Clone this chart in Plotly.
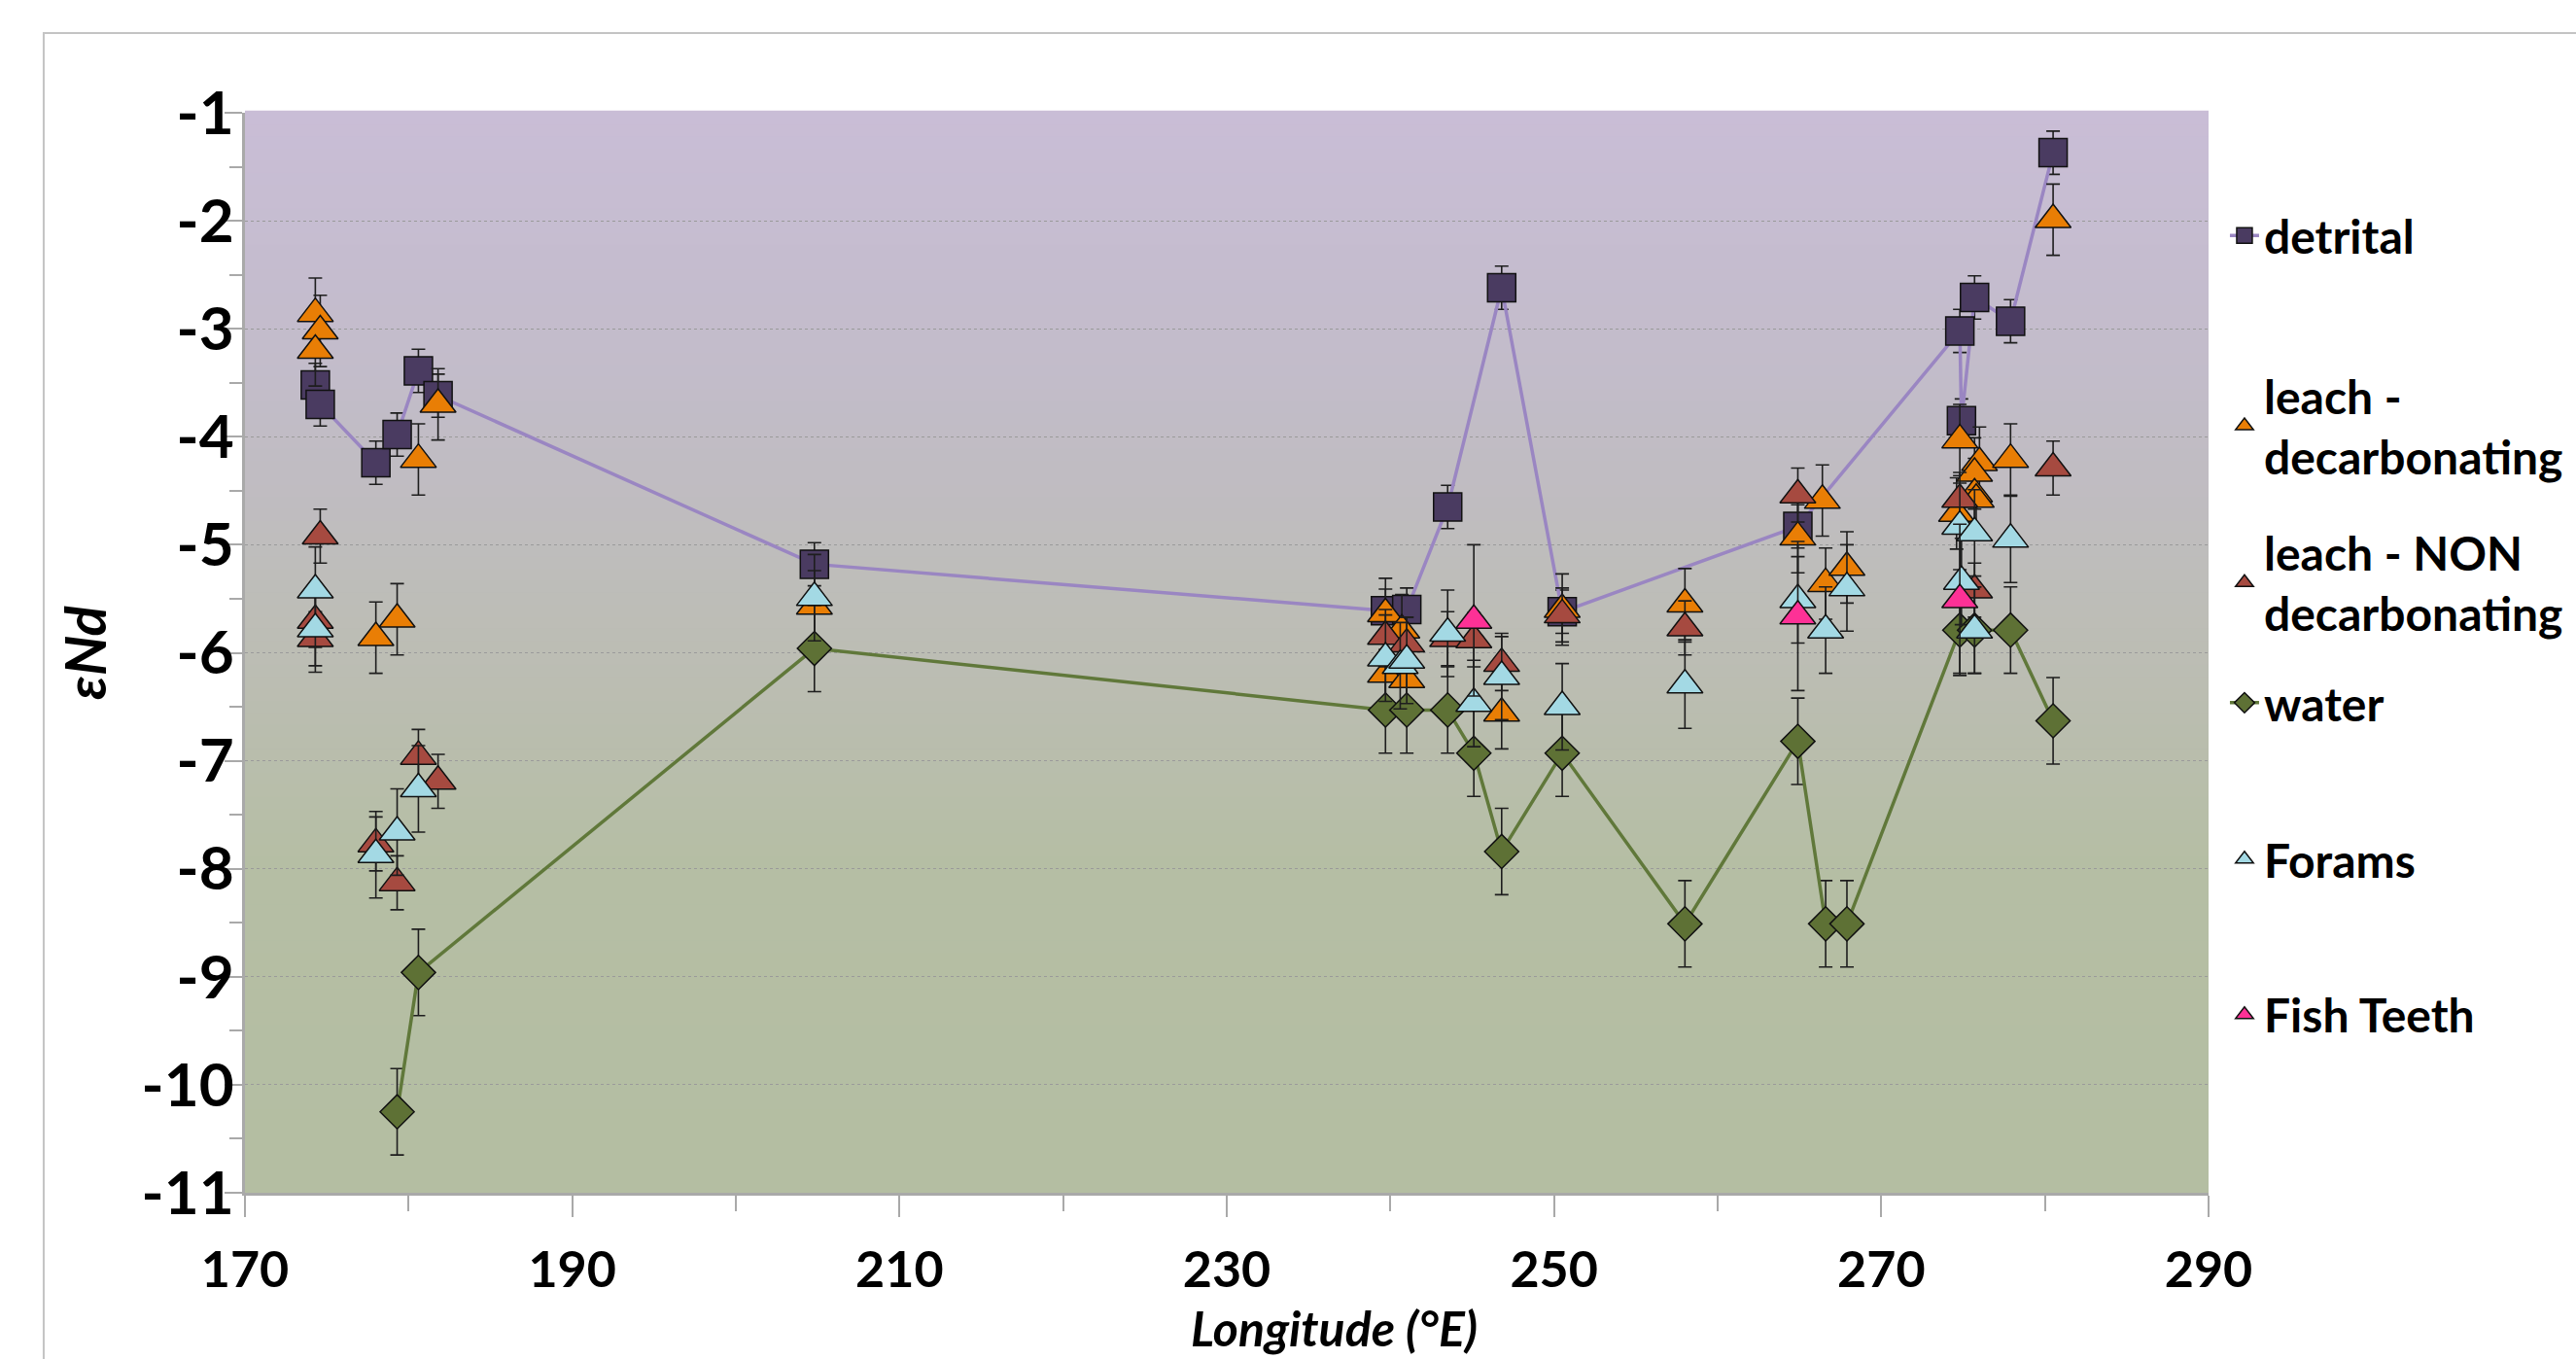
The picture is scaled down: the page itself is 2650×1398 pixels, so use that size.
import plotly.graph_objects as go

# ---------------- data ----------------
detrital_x = [174.3, 174.6, 178.0, 179.3, 180.6, 181.8, 204.8, 239.7, 241.0, 243.5,
              246.8, 250.5, 264.9, 274.8, 274.9, 275.7, 277.9, 280.5]
detrital_y = [-3.52, -3.70, -4.24, -3.98, -3.39, -3.62, -5.18, -5.61, -5.60, -4.65,
              -2.62, -5.62, -4.83, -3.02, -3.85, -2.71, -2.93, -1.37]
detrital_err = [0.2] * len(detrital_x)

leachdec_x = [174.3, 174.6, 174.3, 178.0, 179.3, 180.6, 181.8, 204.8, 239.7, 239.7,
              240.7, 241.0, 246.8, 250.5, 258.0, 264.9, 266.4, 266.6, 267.9, 274.8,
              276.0, 275.7, 275.7, 275.8, 274.6, 277.9, 280.5]
leachdec_y = [-2.86, -3.02, -3.20, -5.86, -5.69, -4.21, -3.70, -5.57, -5.64, -6.20,
              -5.79, -6.25, -6.56, -5.60, -5.55, -4.93, -4.59, -5.36, -5.21, -4.03,
              -4.24, -4.34, -4.53, -4.58, -4.71, -4.21, -1.99]
leachdec_err = [0.33] * len(leachdec_x)

leachnon_x = [174.6, 174.3, 174.3, 178.0, 179.3, 180.6, 181.8, 239.7, 241.0, 243.5,
              245.1, 246.8, 250.5, 258.0, 264.9, 274.8, 275.7, 280.5]
leachnon_y = [-4.92, -5.70, -5.87, -7.77, -8.13, -6.96, -7.19, -5.85, -5.92, -5.87,
              -5.88, -6.10, -5.65, -5.77, -4.54, -4.58, -5.42, -4.29]
leachnon_err = [0.25] * len(leachnon_x)

water_x = [179.3, 180.6, 204.8, 239.7, 241.0, 243.5, 245.1, 246.8, 250.5, 258.0,
           264.9, 266.6, 267.9, 274.8, 275.7, 277.9, 280.5]
water_y = [-10.25, -8.96, -5.96, -6.53, -6.53, -6.53, -6.93, -7.84, -6.93, -8.51,
           -6.82, -8.51, -8.51, -5.79, -5.79, -5.79, -6.63]
water_err = [0.4] * len(water_x)

forams_x = [174.3, 174.3, 178.0, 179.3, 180.6, 204.8, 239.7, 240.6, 241.0, 243.5,
            245.1, 246.8, 250.5, 258.0, 264.9, 266.6, 267.9, 274.8, 274.9, 275.7,
            275.7, 277.9]
forams_y = [-5.42, -5.78, -7.87, -7.66, -7.26, -5.49, -6.05, -6.12, -6.07, -5.82,
            -6.47, -6.22, -6.50, -6.30, -5.51, -5.79, -5.40, -4.83, -5.34, -4.89,
            -5.79, -4.95]
forams_err = [0.4] * len(forams_x)

fish_x = [245.1, 264.9, 274.8]
fish_y = [-5.70, -5.66, -5.51]
fish_err = [0.7, 0.69, 0.7]

x_tickvals = [170, 190, 210, 230, 250, 270, 290]
x_ticktext = ["170", "190", "210", "230", "250", "270", "290"]
y_tickvals = [-1, -2, -3, -4, -5, -6, -7, -8, -9, -10, -11]
y_ticktext = ["-1", "-2", "-3", "-4", "-5", "-6", "-7", "-8", "-9", "-10", "-11"]

# ---------------- style ----------------
FONT = "Lato"
err_style = dict(type="data", color="#1e1e1e", thickness=1.6, width=7)
outline = dict(color="#111111", width=1.5)
TRI = 32

series = [
    dict(name="detrital", x=detrital_x, y=detrital_y, e=detrital_err, mode="lines+markers",
         symbol="square", size=29, color="#4a3b61", line=dict(color="#9a86c2", width=3.5)),
    dict(name="leach -<br>decarbonating", x=leachdec_x, y=leachdec_y, e=leachdec_err, mode="markers",
         symbol="triangle-up", size=TRI, color="#e97e05", line=None),
    dict(name="leach - NON<br>decarbonating", x=leachnon_x, y=leachnon_y, e=leachnon_err, mode="markers",
         symbol="triangle-up", size=TRI, color="#a64a40", line=None),
    dict(name="water", x=water_x, y=water_y, e=water_err, mode="lines+markers",
         symbol="diamond", size=27, color="#5e7135", line=dict(color="#60783a", width=3.5)),
    dict(name="Forams", x=forams_x, y=forams_y, e=forams_err, mode="markers",
         symbol="triangle-up", size=TRI, color="#a3d9e4", line=None),
    dict(name="Fish Teeth", x=fish_x, y=fish_y, e=fish_err, mode="markers",
         symbol="triangle-up", size=TRI, color="#fd3196", line=None),
]

# legend centres (paper y) for each entry
legend_y = [0.886, 0.710, 0.565, 0.4535, 0.3086, 0.1647]

fig = go.Figure()
for i, s in enumerate(series):
    lg = "legend" if i == 0 else f"legend{i+1}"
    kw = dict(
        x=s["x"], y=s["y"], mode=s["mode"], name=s["name"],
        marker=dict(symbol=s["symbol"], size=s["size"], color=s["color"], line=outline),
        error_y=dict(array=s["e"], **err_style),
        legend=lg, showlegend=True, hoverinfo="x+y",
    )
    if s["line"] is not None:
        kw["line"] = s["line"]
    fig.add_trace(go.Scatter(**kw))

legend_font = dict(family=FONT, size=48, color="black", weight=700)
for i, ly in enumerate(legend_y):
    key = "legend" if i == 0 else f"legend{i+1}"
    fig.update_layout(**{key: dict(x=1.0084, y=ly, xanchor="left", yanchor="middle",
                                   font=legend_font, bgcolor="rgba(0,0,0,0)",
                                   borderwidth=0, itemsizing="trace")})

# gradient background bands (purple top -> gray -> green bottom)
stops = [(0.0, (180, 190, 162)), (0.30, (181, 190, 164)), (0.50, (188, 189, 180)),
         (0.75, (194, 188, 201)), (1.0, (201, 189, 214))]

def interp(t):
    for (t0, c0), (t1, c1) in zip(stops[:-1], stops[1:]):
        if t0 <= t <= t1:
            f = (t - t0) / (t1 - t0)
            return tuple(round(a + (b - a) * f) for a, b in zip(c0, c1))
    return stops[-1][1]

N = 90
shapes = []
for i in range(N):
    c = interp((i + 0.5) / N)
    shapes.append(dict(type="rect", xref="x domain", yref="y domain",
                       x0=0, x1=1, y0=i / N, y1=(i + 1) / N + 0.002,
                       fillcolor=f"rgb{c}", line=dict(width=0), layer="below"))
# outer chart-area frame
shapes.append(dict(type="rect", xref="paper", yref="paper",
                   x0=-0.1025, x1=1.25, y0=-0.25, y1=1.0738,
                   line=dict(color="#c4c4c4", width=2), fillcolor="rgba(0,0,0,0)", layer="below"))

axis_gray = "#a9a9a9"
fig.update_layout(
    width=2650, height=1398, autosize=False,
    margin=dict(l=252, r=378, t=116, b=171, autoexpand=False),
    paper_bgcolor="white", plot_bgcolor="rgba(0,0,0,0)",
    shapes=shapes,
    xaxis=dict(range=[170, 290], tickvals=x_tickvals, ticktext=x_ticktext,
               ticks="outside", ticklen=22, tickwidth=2, tickcolor=axis_gray,
               minor=dict(tickvals=[180, 200, 220, 240, 260, 280], ticks="outside",
                          ticklen=16, tickwidth=2, tickcolor=axis_gray, showgrid=False),
               showline=True, linecolor=axis_gray, linewidth=3, showgrid=False, zeroline=False,
               tickfont=dict(family=FONT, size=52, color="black", weight=700),
               ticklabelstandoff=10),
    yaxis=dict(range=[-11, -1], tickvals=y_tickvals, ticktext=y_ticktext,
               ticks="outside", ticklen=18, tickwidth=2, tickcolor=axis_gray,
               minor=dict(dtick=0.5, tick0=-1, ticks="outside", ticklen=13, tickwidth=2,
                          tickcolor=axis_gray, showgrid=False),
               showline=True, linecolor=axis_gray, linewidth=3,
               showgrid=True, gridcolor="#9a9a9a", gridwidth=1.2, griddash="3px,3px",
               zeroline=False, ticklabelstandoff=-22,
               tickfont=dict(family=FONT, size=62, color="black", weight=700),
               title=dict(text="<i>εNd</i>", standoff=18,
                          font=dict(family=FONT, size=58, color="black", weight=700))),
    xaxis2=dict(overlaying="x", matches="x", anchor="y", side="bottom",
                tickvals=x_tickvals, ticks="inside", ticklen=22, tickwidth=2,
                tickcolor=axis_gray, showticklabels=False, showgrid=False, showline=False,
                zeroline=False),
    yaxis2=dict(overlaying="y", matches="y", anchor="x", side="left",
                tickvals=y_tickvals, ticks="inside", ticklen=18, tickwidth=2,
                tickcolor=axis_gray, showticklabels=False, showgrid=False, showline=False,
                zeroline=False),
    annotations=[dict(text="<i>Longitude (°E)</i>", xref="paper", yref="paper",
                      x=0.5545, y=-0.125, xanchor="center", yanchor="middle", showarrow=False,
                      font=dict(family=FONT, size=50, color="black", weight=700))],
)

fig.write_html("out.html", config={"displayModeBar": False},
               post_script="document.body.style.margin='0';document.body.style.overflow='hidden';")
